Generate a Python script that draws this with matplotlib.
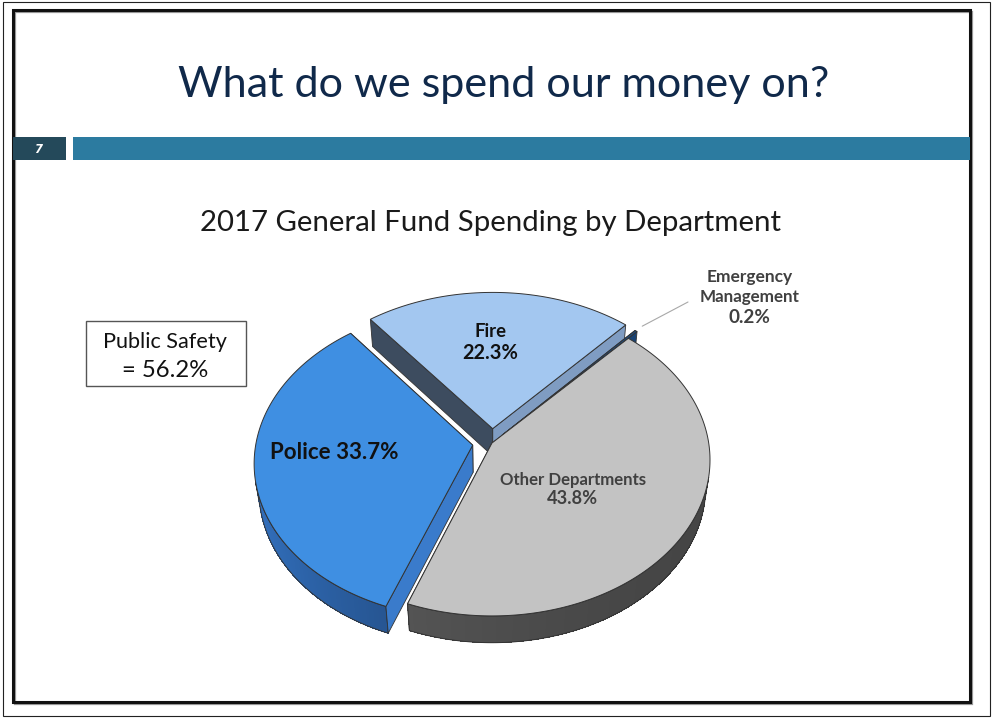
import numpy as np
import matplotlib
matplotlib.use("Agg")
import matplotlib.pyplot as plt
from matplotlib.patches import Polygon, Rectangle

# ---- data -------------------------------------------------------------
departments = ["Fire", "Emergency\nManagement", "Other Departments", "Police"]
shares = [22.3, 0.2, 43.8, 33.7]          # percent of general fund
public_safety = ["Fire", "Emergency\nManagement", "Police"]
explode = [0.094, 0.07, 0.0, 0.09]

title = "What do we spend our money on?"
subtitle = "2017 General Fund Spending by Department"
slide_no = "7"

# ---- styling ----------------------------------------------------------
W, H = 992, 719
FONT = "Lato"
top_colors = ["#A3C7F0", "#1F4E82", "#C3C3C3", "#3F8FE2"]
side_light = ["#5B7FA8", "#1D4470", "#666666", "#3474C4"]
side_dark = ["#3A5578", "#142F50", "#454545", "#1B3C69"]
# radial faces: (start-edge face, end-edge face)
radial_colors = [("#7F9CC2", "#3D4C5F"), ("#1A4373", "#1A4373"),
                 ("#5A5A5A", "#5A5A5A"), ("#2A5C9A", "#3A7BCB")]
EDGE = "#333333"

# ---- 3D projection ----------------------------------------------------
S_EL, C_EL = 0.711, 0.703        # sin/cos of viewing elevation
PERSP = 0.109                    # perspective strength
DIST = C_EL / PERSP
THICK = 0.183
CAM = np.array([0.0, -DIST * C_EL, DIST * S_EL])
START = 128.2                    # first slice starts here, slices run clockwise


def proj(x, y, z):
    d = 1 + (y * C_EL - z * S_EL) / DIST
    return x / d, (y * S_EL + z * C_EL) / d


def mix(c1, c2, w):
    a = np.array(matplotlib.colors.to_rgb(c1))
    b = np.array(matplotlib.colors.to_rgb(c2))
    return tuple(b + (a - b) * w)


fig = plt.figure(figsize=(W / 100, H / 100), dpi=100)
fig.patch.set_facecolor("white")

# slide decoration in pixel coordinates
bg = fig.add_axes([0, 0, 1, 1])
bg.set_xlim(0, W)
bg.set_ylim(H, 0)
bg.axis("off")
bg.add_patch(Rectangle((3, 2), 987, 714, fill=False, ec="#222222", lw=0.8))
bg.add_patch(Rectangle((14.5, 11.5), 957, 692, fill=False, ec="#9A9A9A", lw=1.6))
bg.add_patch(Rectangle((12.5, 9.5), 957, 692, fill=False, ec="#111111", lw=2.2))
bg.add_patch(Rectangle((13, 137), 53, 23, fc="#24495A", ec="none"))
bg.add_patch(Rectangle((73, 137), 897, 23, fc="#2C7BA0", ec="none"))
bg.add_patch(Rectangle((85.5, 320.5), 160, 65, fill=False, ec="#555555", lw=1.0))

# pie axes: 216.7 px per unit, pie centre at pixel (492, 443)
SC = 216.7
cx, cy = 492, 443
xl, yl = (-1.6, 1.6), (-1.05, 0.85)
ax = fig.add_axes([(cx + xl[0] * SC) / W, (H - cy + yl[0] * SC) / H,
                   (xl[1] - xl[0]) * SC / W, (yl[1] - yl[0]) * SC / H])
ax.set_xlim(*xl)
ax.set_ylim(*yl)
ax.axis("off")

# slice angles (counter-clockwise degrees)
angles = []
hi = START
for v in shares:
    lo = hi - v * 3.6
    angles.append((lo, hi))
    hi = lo


def facing(normal, point):
    return np.dot(normal, CAM - point) > 0


def draw_slice(i, order):
    t0, t1 = angles[i]
    mid = np.radians((t0 + t1) / 2)
    ex, ey = explode[i] * np.cos(mid), explode[i] * np.sin(mid)
    n = max(4, int(abs(t1 - t0) * 1.5))
    ts = np.radians(np.linspace(t0, t1, n))
    top = np.array([proj(ex + np.cos(t), ey + np.sin(t), 0) for t in ts])
    bot = np.array([proj(ex + np.cos(t), ey + np.sin(t), -THICK) for t in ts])
    apex_t = proj(ex, ey, 0)
    apex_b = proj(ex, ey, -THICK)
    z = 10 + order * 10

    # radial faces
    faces = []
    for k, (t, sgn) in enumerate([(np.radians(t0), -1), (np.radians(t1), 1)]):
        nrm = np.array([np.cos(t + sgn * np.pi / 2), np.sin(t + sgn * np.pi / 2), 0])
        pt = np.array([ex + 0.5 * np.cos(t), ey + 0.5 * np.sin(t), -THICK / 2])
        rim_t = proj(ex + np.cos(t), ey + np.sin(t), 0)
        rim_b = proj(ex + np.cos(t), ey + np.sin(t), -THICK)
        quad = [apex_t, rim_t, rim_b, apex_b]
        faces.append((facing(nrm, pt), quad, radial_colors[i][k]))
    for vis, quad, col in faces:
        if not vis:
            ax.add_patch(Polygon(quad, closed=True, fc=col, ec=EDGE, lw=0.6, zorder=z))

    # outer side, shaded segment by segment
    vis_idx = []
    for j in range(n - 1):
        tm = (ts[j] + ts[j + 1]) / 2
        nrm = np.array([np.cos(tm), np.sin(tm), 0])
        pt = np.array([ex + np.cos(tm), ey + np.sin(tm), -THICK / 2])
        if not facing(nrm, pt):
            continue
        vis_idx.append(j)
        w = ((1 + np.cos(tm - np.radians(170))) / 2) ** 1.5
        col = mix(side_light[i], side_dark[i], w)
        quad = [top[j], top[j + 1], bot[j + 1], bot[j]]
        ax.add_patch(Polygon(quad, closed=True, fc=col, ec="none", lw=0,
                             antialiased=False, zorder=z + 1))
    if vis_idx:
        a, b = vis_idx[0], vis_idx[-1] + 1
        outline = np.vstack([top[a:b + 1], bot[a:b + 1][::-1]])
        ax.add_patch(Polygon(outline, closed=True, fill=False, ec=EDGE, lw=0.7, zorder=z + 2))

    for vis, quad, col in faces:
        if vis:
            ax.add_patch(Polygon(quad, closed=True, fc=col, ec=EDGE, lw=0.6, zorder=z + 3))

    # top face
    poly = np.vstack([[apex_t], top])
    ax.add_patch(Polygon(poly, closed=True, fc=top_colors[i], ec=EDGE, lw=0.7, zorder=z + 4))
    return ex, ey


# back-to-front drawing order
offsets = {}
for order, i in enumerate([0, 1, 2, 3]):
    offsets[i] = draw_slice(i, order)

# leader line for the tiny slice
t_em = np.radians(sum(angles[1]) / 2)
ex, ey = offsets[1]
ax.annotate("", xy=proj(ex + 1.05 * np.cos(t_em), ey + 1.05 * np.sin(t_em), 0),
            xytext=(688, H - 302), textcoords="figure pixels",
            arrowprops=dict(arrowstyle="-", color="#A8A8A8", lw=0.8,
                            shrinkA=0, shrinkB=0), zorder=60)

# ---- text -------------------------------------------------------------
fig.canvas.draw()
renderer = fig.canvas.get_renderer()


def fitted(x, y, s, width, **kw):
    kw.setdefault("family", FONT)
    t = fig.text(x / W, 1 - y / H, s, fontsize=20, ha="center", va="baseline",
                 zorder=100, **kw)
    wpx = t.get_window_extent(renderer).width
    t.set_fontsize(20 * width / wpx)
    return t


fitted(503.5, 97, title, 653, color="#10294A")
fitted(491, 231, subtitle, 582, color="#1A1A1A")
fitted(38, 153, slide_no, 8, color="white", weight="bold", style="italic",
       family="DejaVu Sans")

ps_total = sum(v for d, v in zip(departments, shares) if d in public_safety)
fitted(165, 348, "Public Safety", 124, color="#111111")
fitted(165, 377, f"= {ps_total:.1f}%", 86, color="#111111")

fitted(491, 337, departments[0], 32, color="#111111", weight="bold")
fitted(490, 359, f"{shares[0]:.1f}%", 56, color="#111111", weight="bold")

fitted(334.5, 459, f"{departments[3]} {shares[3]:.1f}%", 129, color="#111111", weight="bold")

fitted(573.5, 485, departments[2], 147, color="#404040", weight="bold")
fitted(572.5, 504, f"{shares[2]:.1f}%", 51, color="#404040", weight="bold")

em1, em2 = departments[1].split("\n")
fitted(750, 282, em1, 86, color="#404040", weight="bold")
fitted(750, 302, em2, 100, color="#404040", weight="bold")
fitted(749, 323, f"{shares[1]:.1f}%", 42, color="#404040", weight="bold")

fig.savefig("out.png", dpi=100, facecolor="white")
